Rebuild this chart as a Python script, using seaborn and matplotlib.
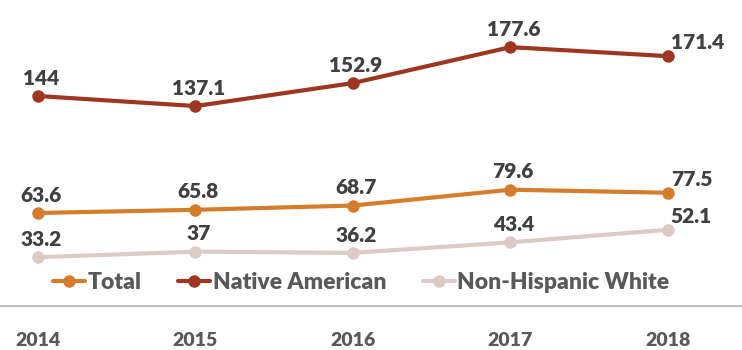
import pandas as pd
import matplotlib
matplotlib.use("Agg")
import matplotlib.pyplot as plt
from matplotlib import font_manager
import seaborn as sns

# data
years = ["2014", "2015", "2016", "2017", "2018"]
total = [63.6, 65.8, 68.7, 79.6, 77.5]
native = [144, 137.1, 152.9, 177.6, 171.4]
white = [33.2, 37, 36.2, 43.4, 52.1]
groups = ["Total", "Native American", "Non-Hispanic White"]
colors = ["#D67D2C", "#9E3622", "#DCCAC5"]

df = pd.DataFrame({
    "Year": years * 3,
    "Value": total + native + white,
    "Group": [groups[0]] * 5 + [groups[1]] * 5 + [groups[2]] * 5,
})

# pick a family that really has a bold face
fams = {}
for f in font_manager.fontManager.ttflist:
    w = f.weight if isinstance(f.weight, int) else 400
    fams.setdefault(f.name, set()).add(w)
fam = "DejaVu Sans"
for cand in ["Lato", "Open Sans", "Noto Sans", "Roboto"]:
    if cand in fams and max(fams[cand]) >= 600:
        fam = cand
        break
bold_w = 800 if max(fams.get(fam, {700})) >= 800 else "bold"

sns.set_style("white")
plt.rcParams["font.family"] = [fam, "DejaVu Sans"]

fig = plt.figure(figsize=(7.42, 3.5), dpi=100)
ax = fig.add_axes([0, 44.5 / 350, 1, 305.5 / 350])

sns.lineplot(data=df, x="Year", y="Value", hue="Group", palette=colors,
             marker="o", markersize=9, markeredgewidth=0, linewidth=3,
             ax=ax)

# data labels (last point of each line sits to the upper right)
for vals in [total, native, white]:
    for i, v in enumerate(vals):
        if i == 4:
            ax.annotate(f"{v:g}", (i, v), xytext=(2, 3), textcoords="offset points",
                        ha="left", va="bottom", fontsize=15, fontweight=bold_w,
                        color="#404040")
        else:
            ax.annotate(f"{v:g}", (i, v), xytext=(2, 6), textcoords="offset points",
                        ha="center", va="bottom", fontsize=15, fontweight=bold_w,
                        color="#404040")

ax.set_xlim(-38 / 157.5, 4 + 74 / 157.5)
ax.set_ylim(0, 210)
ax.set_xlabel("")
ax.set_ylabel("")
ax.set_yticks([])
ax.tick_params(axis="x", length=0, pad=19, labelsize=14, labelcolor="#595959")
for t in ax.get_xticklabels():
    t.set_fontweight(bold_w)

for s in ["top", "left", "right"]:
    ax.spines[s].set_visible(False)
ax.spines["bottom"].set_color("#BFBFBF")
ax.spines["bottom"].set_linewidth(1.5)

leg = ax.legend(loc="center", bbox_to_anchor=(0.487, 0.074), ncol=3, frameon=False,
                handlelength=1.4, handletextpad=0.1, columnspacing=1.6,
                prop={"size": 16.5, "weight": bold_w})
for t in leg.get_texts():
    t.set_color("#595959")

fig.savefig("out.png", dpi=100)
